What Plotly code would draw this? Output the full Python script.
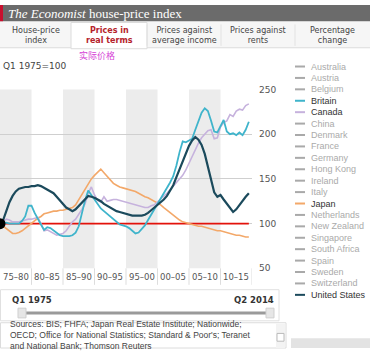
import plotly.graph_objects as go

W, H = 370, 353

# ---------------- data (half-yearly, index Q1 1975 = 100, real terms) ----------------
periods = [1975 + 0.5 * i for i in range(80)]

us = [100, 104, 114, 124, 131, 136, 139, 140, 141, 141,
      142, 142, 143, 142, 140, 138, 136, 134, 130, 126,
      122, 118, 116, 114, 116, 120, 124, 127, 131, 130,
      129, 127, 125, 122, 120, 118, 116, 114, 113, 112,
      111, 110, 109, 109, 109, 109, 110, 112, 115, 118,
      120, 123, 127, 131, 137, 143, 152, 161, 170, 178,
      187, 193, 197, 194, 188, 178, 164, 150, 135, 130,
      132, 127, 122, 118, 113, 116, 121, 126, 130, 134]

britain = [100, 100, 101, 100, 100, 100, 100, 103, 108, 120,
           120, 112, 105, 99, 93, 96, 95, 92, 89, 87,
           86, 86, 86, 87, 90, 97, 112, 126, 137, 132,
           126, 121, 117, 114, 111, 108, 105, 101, 99, 98,
           97, 95, 92, 89, 90, 94, 98, 104, 110, 116,
           121, 127, 133, 140, 146, 153, 165, 180, 192, 191,
           193, 195, 205, 215, 224, 229, 226, 215, 203, 202,
           210, 216, 203, 200, 201, 199, 202, 199, 205, 214]

canada = [100, 103, 105, 104, 102, 102, 102, 103, 104, 105,
          105, 106, 107, 100, 92, 93, 91, 89, 87, 88,
          89, 92, 97, 102, 105, 110, 116, 122, 134, 141,
          132, 126, 124, 130, 125, 126, 127, 127, 126, 125,
          124, 123, 122, 121, 120, 119, 118, 118, 120, 121,
          124, 127, 131, 134, 138, 142, 146, 150, 154, 160,
          168, 176, 183, 190, 196, 200, 204, 205, 195, 196,
          208, 213, 215, 222, 220, 226, 228, 227, 232, 234]

japan = [100, 97, 94, 91, 89, 89, 90, 92, 95, 98,
         101, 104, 106, 108, 111, 112, 113, 114, 114, 115,
         115, 116, 117, 118, 121, 127, 133, 139, 145, 150,
         154, 158, 161, 157, 153, 149, 145, 143, 141, 140,
         139, 138, 137, 136, 134, 132, 130, 129, 127, 125,
         123, 121, 118, 115, 112, 110, 107, 104, 102, 101,
         100, 99, 98, 97, 97, 96, 95, 94, 93, 92,
         92, 91, 90, 89, 88, 87, 87, 86, 85, 85]

BASE = 100
band_starts = [1975, 1980, 1985, 1990, 1995, 2000, 2005, 2010]
band_labels = ["75–80", "80–85", "85–90", "90–95", "95–00", "00–05", "05–10", "10–15"]
y_ticks = [50, 100, 150, 200, 250]

countries = ["Australia", "Austria", "Belgium", "Britain", "Canada", "China", "Denmark",
             "France", "Germany", "Hong Kong", "Ireland", "Italy", "Japan", "Netherlands",
             "New Zealand", "Singapore", "South Africa", "Spain", "Sweden", "Switzerland",
             "United States"]

COL_US = "#1b4a5c"
COL_GB = "#3fb4cb"
COL_CA = "#c6b2dd"
COL_JP = "#f3a869"
active = {"Britain": COL_GB, "Canada": COL_CA, "Japan": COL_JP, "United States": COL_US}

# ---------------- helpers ----------------
def px(x):
    return x / W

def py(y):
    return 1 - y / H

PLOT_L, PLOT_R = 0, 252
PLOT_T, PLOT_B = 87, 271

fig = go.Figure()

fig.add_trace(go.Scatter(x=[periods[0], periods[-1]], y=[BASE, BASE], mode="lines",
                         line=dict(color="#e3120b", width=1.6), hoverinfo="skip"))
fig.add_trace(go.Scatter(x=periods, y=japan, mode="lines", line=dict(color=COL_JP, width=1.6)))
fig.add_trace(go.Scatter(x=periods, y=canada, mode="lines", line=dict(color=COL_CA, width=1.6)))
fig.add_trace(go.Scatter(x=periods, y=britain, mode="lines", line=dict(color=COL_GB, width=1.8)))
fig.add_trace(go.Scatter(x=periods, y=us, mode="lines", line=dict(color=COL_US, width=2.2)))
fig.add_trace(go.Scatter(x=[periods[0]], y=[us[0]], mode="markers", cliponaxis=False,
                         marker=dict(color="black", size=11)))

shapes = []
annotations = []

# alternating bands
for i, s in enumerate(band_starts):
    if i % 2 == 0:
        shapes.append(dict(type="rect", xref="x", yref="paper", x0=s, x1=s + 5,
                           y0=py(PLOT_B), y1=py(PLOT_T), fillcolor="#ececec",
                           line=dict(width=0), layer="below"))
    annotations.append(dict(x=s + 2.5, xref="x", y=py(280), yref="paper", text=band_labels[i],
                            showarrow=False, font=dict(size=8.5, color="#555",
                                                       family="DejaVu Sans"),
                            xanchor="center", yanchor="middle"))
    shapes.append(dict(type="line", xref="x", yref="paper", x0=s + 5, x1=s + 5,
                       y0=py(288), y1=py(271), line=dict(color="#dddddd", width=1)))

# header bar
shapes.append(dict(type="rect", xref="paper", yref="paper", x0=0, x1=1, y0=py(17), y1=1,
                   fillcolor="#6b6b6b", line=dict(width=0)))
shapes.append(dict(type="rect", xref="paper", yref="paper", x0=0, x1=px(3), y0=py(17), y1=1,
                   fillcolor="#c8102e", line=dict(width=0)))
annotations.append(dict(x=px(6), y=py(9), xref="paper", yref="paper", xanchor="left",
                        yanchor="middle", showarrow=False,
                        text="<i>The Economist</i> house-price index",
                        font=dict(family="Liberation Serif", size=13, color="white")))

# tabs
tab_bounds = [(0, 71), (71, 147), (147, 221), (221, 295), (295, 370)]
tab_texts = ["House-price<br>index", "Prices in<br>real terms", "Prices against<br>average income",
             "Prices against<br>rents", "Percentage<br>change"]
shapes.append(dict(type="rect", xref="paper", yref="paper", x0=0, x1=1, y0=py(44), y1=py(17),
                   fillcolor="#f6f6f6", line=dict(width=0)))
shapes.append(dict(type="line", xref="paper", yref="paper", x0=0, x1=1, y0=py(44), y1=py(44),
                   line=dict(color="#dcdcdc", width=1)))
for i, ((a, b), t) in enumerate(zip(tab_bounds, tab_texts)):
    if i == 1:
        shapes.append(dict(type="rect", xref="paper", yref="paper", x0=px(a), x1=px(b),
                           y0=py(45), y1=py(18), fillcolor="white",
                           line=dict(color="#dcdcdc", width=1)))
        fnt = dict(family="DejaVu Sans", size=8, color="#b5232b")
        t = "<b>" + t + "</b>"
    else:
        fnt = dict(family="DejaVu Sans", size=8, color="#444")
        if i > 0:
            shapes.append(dict(type="line", xref="paper", yref="paper", x0=px(a), x1=px(a),
                               y0=py(42), y1=py(20), line=dict(color="#e2e2e2", width=1)))
    annotations.append(dict(x=px((a + b) / 2), y=py(31), xref="paper", yref="paper",
                            text=t, showarrow=False, xanchor="center", yanchor="middle",
                            font=fnt))

annotations.append(dict(x=px(77), y=py(52), xref="paper", yref="paper", xanchor="left",
                        yanchor="middle", showarrow=False, text="实际价格",
                        font=dict(family="Noto Sans CJK SC", size=9, color="#d63fd6")))
annotations.append(dict(x=px(1), y=py(63), xref="paper", yref="paper", xanchor="left",
                        yanchor="middle", showarrow=False, text="Q1 1975=100",
                        font=dict(family="DejaVu Sans", size=9, color="#444")))

# legend (manual)
for k, c in enumerate(countries):
    yy = 63.3 + k * 11.75
    col = active.get(c, "#a9a9a9")
    shapes.append(dict(type="line", xref="paper", yref="paper", x0=px(295), x1=px(305),
                       y0=py(yy), y1=py(yy), line=dict(color=col, width=2)))
    annotations.append(dict(x=px(309), y=py(yy), xref="paper", yref="paper", xanchor="left",
                            yanchor="middle", showarrow=False, text=c,
                            font=dict(family="Liberation Sans", size=9,
                                      color="#333" if c in active else "#aaa")))

# slider area
shapes.append(dict(type="rect", xref="paper", yref="paper", x0=px(0.5), x1=px(279),
                   y0=py(325), y1=py(293), line=dict(color="#e0e0e0", width=1)))
annotations.append(dict(x=px(10), y=py(304), xref="paper", yref="paper", xanchor="left",
                        yanchor="middle", showarrow=False, text="<b>Q1 1975</b>",
                        font=dict(family="DejaVu Sans", size=8.5, color="#333")))
annotations.append(dict(x=px(276), y=py(304), xref="paper", yref="paper", xanchor="right",
                        yanchor="middle", showarrow=False, text="<b>Q2 2014</b>",
                        font=dict(family="DejaVu Sans", size=8.5, color="#333")))
shapes.append(dict(type="line", xref="paper", yref="paper", x0=px(20), x1=px(270),
                   y0=py(317), y1=py(317), line=dict(color="#9a9a9a", width=3)))
for hx in (18, 266):
    shapes.append(dict(type="rect", xref="paper", yref="paper", x0=px(hx), x1=px(hx + 8),
                       y0=py(322), y1=py(312), fillcolor="#e6e6e6",
                       line=dict(color="#cfcfcf", width=1)))

# sources box
shapes.append(dict(type="rect", xref="paper", yref="paper", x0=px(0.5), x1=px(286),
                   y0=0, y1=py(327), line=dict(color="#dcdcdc", width=1)))
shapes.append(dict(type="rect", xref="paper", yref="paper", x0=px(276), x1=px(285),
                   y0=0, y1=py(328), fillcolor="#f3f3f3", line=dict(width=0)))
shapes.append(dict(type="rect", xref="paper", yref="paper", x0=px(277), x1=px(284),
                   y0=py(346), y1=py(338), fillcolor="#ffffff", line=dict(color="#bbb", width=1)))
shapes.append(dict(type="rect", xref="paper", yref="paper", x0=px(291), x1=1,
                   y0=0, y1=py(343), fillcolor="#e3e3e3", line=dict(width=0)))
annotations.append(dict(x=px(8), y=py(340), xref="paper", yref="paper", xanchor="left",
                        yanchor="middle", showarrow=False, align="left",
                        text="Sources: BIS; FHFA; Japan Real Estate Institute; Nationwide;<br>"
                             "OECD; Office for National Statistics; Standard &amp; Poor's; Teranet<br>"
                             "and National Bank; Thomson Reuters",
                        font=dict(family="Liberation Sans", size=8.5, color="#444")))

fig.update_layout(
    width=W, height=H, margin=dict(l=0, r=0, t=0, b=0),
    paper_bgcolor="white", plot_bgcolor="rgba(0,0,0,0)",
    showlegend=False, shapes=shapes, annotations=annotations,
    xaxis=dict(domain=[px(PLOT_L), px(PLOT_R)], range=[1975, 2015], showgrid=False,
               zeroline=False, showticklabels=False, fixedrange=True),
    yaxis=dict(domain=[py(PLOT_B), py(PLOT_T)], range=[50, 250], side="right",
               tickvals=y_ticks, showgrid=True, gridcolor="#cfcfcf", gridwidth=1,
               zeroline=False, ticks="", ticklabelstandoff=6,
               tickfont=dict(family="DejaVu Sans", size=9, color="#555"), fixedrange=True),
)

fig.write_html("out.html")
